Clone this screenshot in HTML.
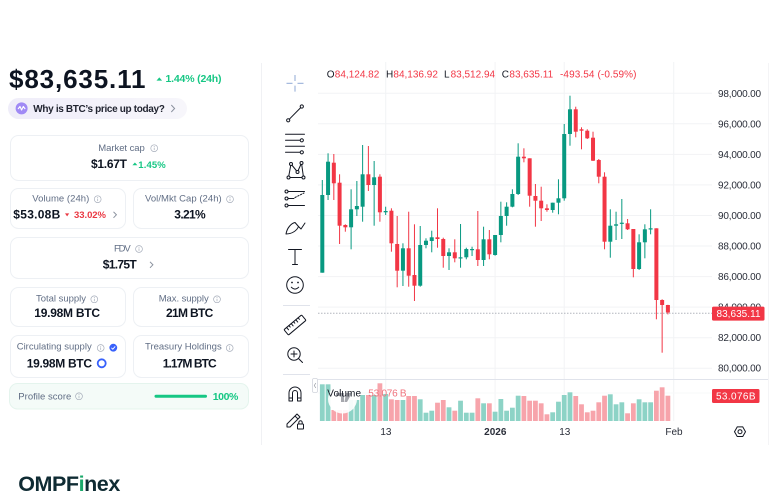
<!DOCTYPE html>
<html><head><meta charset="utf-8"><style>
html,body{margin:0;padding:0;background:#fff;width:780px;height:503px;overflow:hidden}
svg{display:block;font-family:"Liberation Sans",Arial,sans-serif}
.g{fill:#089981}.r{fill:#f23645}.vg{fill:#8dd3c6}.vr{fill:#f7a4ab}
.lbl{font-size:9.5px;fill:#616e85}
.val{font-size:12px;font-weight:bold;fill:#0d1421}
.ax{font-size:10px;fill:#2a2e39}
.ic{fill:none;stroke:#131722;stroke-width:1;stroke-linecap:round;stroke-linejoin:round}
</style></head><body>
<svg width="780" height="503" viewBox="0 0 780 503" xmlns="http://www.w3.org/2000/svg">
<defs>
<symbol id="info" viewBox="-4 -4 8 8" width="8" height="8"><circle r="3.4" fill="none" stroke="#a6adba" stroke-width="0.7"/><line x1="0" y1="-0.6" x2="0" y2="1.9" stroke="#a6adba" stroke-width="0.7"/><circle cy="-1.7" r="0.45" fill="#a6adba"/></symbol>
<linearGradient id="pill" x1="0" x2="1"><stop offset="0" stop-color="#efedf9"/><stop offset="1" stop-color="#f7f6fb"/></linearGradient>
</defs>

<!-- LEFT PANEL -->
<text x="9" y="88" font-size="26" font-weight="bold" fill="#0d1421" textLength="136.5">$83,635.11</text>
<polygon points="156.5,80.6 159.3,77.4 162.1,80.6" fill="#16c784"/>
<text x="165.5" y="81.8" font-size="10.5" font-weight="bold" fill="#16c784" textLength="56">1.44% (24h)</text>

<rect x="8" y="98" width="179" height="21" rx="10.5" fill="url(#pill)"/>
<circle cx="21.6" cy="108.4" r="6" fill="#a08af5"/>
<polyline points="18,109 20,106.5 21.6,110 23.3,106.5 25.2,109" fill="none" stroke="#fff" stroke-width="1.1" stroke-linejoin="round"/>
<text x="33.3" y="112" font-size="10" font-weight="bold" fill="#222531" textLength="131.5">Why is BTC’s price up today?</text>
<polyline points="171.3,105 174.6,108.5 171.3,112" fill="none" stroke="#8a919e" stroke-width="1"/>

<!-- cards -->
<g fill="#fff" stroke="#edf0f4" stroke-width="1">
<rect x="10.5" y="135.5" width="238" height="45" rx="8"/>
<rect x="10.5" y="188.5" width="115" height="40" rx="8"/>
<rect x="133.5" y="188.5" width="115" height="40" rx="8"/>
<rect x="10.5" y="237.5" width="238" height="41" rx="8"/>
<rect x="10.5" y="287.5" width="115" height="39" rx="8"/>
<rect x="133.5" y="287.5" width="115" height="39" rx="8"/>
<rect x="10.5" y="335.5" width="115" height="42" rx="8"/>
<rect x="133.5" y="335.5" width="115" height="42" rx="8"/>
</g>

<text class="lbl" x="98.3" y="151.2" textLength="46.5">Market cap</text>
<use href="#info" x="150.2" y="144.2"/>
<text class="val" x="91" y="168.2" textLength="36">$1.67T</text>
<polygon points="132.4,165.3 134.9,162.5 137.4,165.3" fill="#16c784"/>
<text x="138.3" y="168" font-size="9.5" font-weight="bold" fill="#16c784" textLength="27.4">1.45%</text>

<text class="lbl" x="32.3" y="201.3" textLength="57">Volume (24h)</text>
<use href="#info" x="93.7" y="195.2"/>
<text class="val" x="13.3" y="218.4" textLength="47">$53.08B</text>
<polygon points="65,213.4 69.2,213.4 67.1,216.4" fill="#ea3943"/>
<text x="74" y="218.2" font-size="9.5" font-weight="bold" fill="#ea3943" textLength="32">33.02%</text>
<polyline points="113.5,211.8 116.4,214.8 113.5,217.8" fill="none" stroke="#8a919e" stroke-width="1"/>

<text class="lbl" x="145" y="201.3" textLength="76.7">Vol/Mkt Cap (24h)</text>
<use href="#info" x="226" y="195.2"/>
<text class="val" x="174.3" y="218.3" textLength="31.4">3.21%</text>

<text class="lbl" x="114" y="251.5" textLength="16.7">FDV</text>
<use href="#info" x="135" y="245"/>
<text class="val" x="102.7" y="268.4" textLength="34">$1.75T</text>
<polyline points="150,261.8 152.9,264.8 150,267.8" fill="none" stroke="#8a919e" stroke-width="1"/>

<text class="lbl" x="36" y="301.5" textLength="50">Total supply</text>
<use href="#info" x="90.3" y="295.3"/>
<text class="val" x="34.3" y="317" textLength="65.7">19.98M BTC</text>
<text class="lbl" x="158.7" y="301.5" textLength="50">Max. supply</text>
<use href="#info" x="213" y="295.3"/>
<text class="val" x="166" y="317" textLength="47.3">21M BTC</text>

<text class="lbl" x="16.7" y="349.6" textLength="75">Circulating supply</text>
<use href="#info" x="96.7" y="344"/>
<circle cx="113.3" cy="347.7" r="3.9" fill="#3861fb"/>
<polyline points="111.4,347.8 112.8,349.2 115.2,346.4" fill="none" stroke="#fff" stroke-width="0.9"/>
<text class="val" x="26.7" y="367.3" textLength="65.3">19.98M BTC</text>
<circle cx="101.7" cy="363.3" r="4" fill="none" stroke="#3861fb" stroke-width="1.8"/>
<text class="lbl" x="145" y="349.6" textLength="76.7">Treasury Holdings</text>
<use href="#info" x="225.7" y="344"/>
<text class="val" x="162.7" y="367.3" textLength="54">1.17M BTC</text>

<rect x="9.5" y="383.5" width="239" height="25.5" rx="8" fill="#f4fbf8" stroke="#e4f4ed"/>
<text class="lbl" x="18.3" y="399.6" textLength="53">Profile score</text>
<use href="#info" x="75" y="392.3"/>
<line x1="156" y1="396.3" x2="205.5" y2="396.3" stroke="#16c784" stroke-width="3" stroke-linecap="round"/>
<text x="212.7" y="400" font-size="10.5" font-weight="bold" fill="#16c784" textLength="25.7">100%</text>

<!-- logo -->
<text x="18.2" y="490.8" font-size="21.5" font-weight="bold" fill="#0f2b33" textLength="101.8" letter-spacing="-0.3">OMPF<tspan fill="#1aa86a">i</tspan>nex</text>

<!-- container borders -->
<line x1="261.5" y1="63" x2="261.5" y2="445" stroke="#f0f1f4"/>
<line x1="768.5" y1="63" x2="768.5" y2="445" stroke="#f4f4f6"/>

<!-- TOOLBAR -->
<g stroke="#8fa8d6" stroke-width="1">
<line x1="286.5" y1="83.3" x2="292.5" y2="83.3"/><line x1="297.5" y1="83.3" x2="303.5" y2="83.3"/>
<line x1="295" y1="75" x2="295" y2="81"/><line x1="295" y1="85.6" x2="295" y2="91.6"/>
</g>
<g class="ic">
<line x1="289.3" y1="119.2" x2="300.7" y2="107.6"/><circle cx="288.2" cy="120.3" r="1.6"/><circle cx="301.8" cy="106.5" r="1.6"/>
<line x1="285.5" y1="134.3" x2="304.5" y2="134.3"/><line x1="285.5" y1="140.3" x2="300" y2="140.3"/><circle cx="301.8" cy="140.3" r="1.6"/>
<line x1="285.5" y1="146.3" x2="304.5" y2="146.3"/><line x1="285.5" y1="152.3" x2="300" y2="152.3"/><circle cx="301.8" cy="152.3" r="1.6"/>
<polyline points="288.5,177.5 291,164 297.5,172 301.5,163 303.5,177.5 288.5,177.5"/>
<circle cx="288.5" cy="177.5" r="1.5" fill="#fff"/><circle cx="291" cy="164" r="1.5" fill="#fff"/><circle cx="297.5" cy="172" r="1.5" fill="#fff"/><circle cx="301.5" cy="163" r="1.5" fill="#fff"/><circle cx="303.5" cy="177.5" r="1.5" fill="#fff"/>
<line x1="288" y1="191.5" x2="304.5" y2="191.5"/><circle cx="286.5" cy="191.5" r="1.5"/>
<line x1="288" y1="205.5" x2="304.5" y2="205.5"/><circle cx="286.5" cy="205.5" r="1.5"/>
<line x1="288" y1="198.5" x2="294" y2="198.5"/><circle cx="286.5" cy="198.5" r="1.5"/>
<line x1="295" y1="197.5" x2="304" y2="193" stroke-dasharray="1.5 1.5"/>
<path d="M286,234 C287,228 291,223.5 295,222.5 L298.5,226.5 C297,230.5 292,234 286,234 Z"/><path d="M298.5,226.5 L301,229 L305,223"/>
<path d="M288.5,249.5 L301.5,249.5 M295,249.5 L295,264.5 M292.5,264.5 L297.5,264.5"/>
<circle cx="295" cy="285" r="8.3"/><path d="M291.3,287.2 Q295,291 298.7,287.2"/>
</g>
<circle cx="292" cy="282.5" r="0.9" fill="#131722"/><circle cx="298" cy="282.5" r="0.9" fill="#131722"/>
<line x1="283" y1="305.5" x2="310" y2="305.5" stroke="#e0e3eb"/>
<g class="ic">
<g transform="rotate(-40 295 325)"><rect x="283.5" y="321.5" width="23" height="7" rx="1"/><path d="M287,321.5v3 M290,321.5v2 M293,321.5v3 M296,321.5v2 M299,321.5v3 M302,321.5v2"/></g>
<circle cx="294" cy="354" r="6.2"/><path d="M291,354h6 M294,351v6 M298.5,358.5 L302.5,362.5"/>
</g>
<line x1="283" y1="374.5" x2="310" y2="374.5" stroke="#e0e3eb"/>
<g class="ic">
<path d="M289,401 L289,393 A6,6 0 0 1 301,393 L301,401 M289,401 L292.5,401 L292.5,393 A2.5,2.5 0 0 1 297.5,393 L297.5,401 L301,401 M289,398 L292.5,398 M297.5,398 L301,398"/>
<path d="M287,427 L287,424 L297,414 L300,417 L290,427 Z M295,416 L298,419"/>
<rect x="297.5" y="424" width="6" height="5" rx="0.8"/><path d="M298.8,424 v-1.6 a1.7,1.7 0 0 1 3.4,0 v1.6"/>
</g>

<!-- CHART GRID -->
<g stroke="#f2f3f5" stroke-width="1">
<line x1="318" y1="93.3" x2="712" y2="93.3"/><line x1="318" y1="123.8" x2="712" y2="123.8"/>
<line x1="318" y1="154.4" x2="712" y2="154.4"/><line x1="318" y1="184.9" x2="712" y2="184.9"/>
<line x1="318" y1="215.5" x2="712" y2="215.5"/><line x1="318" y1="246" x2="712" y2="246"/>
<line x1="318" y1="276.6" x2="712" y2="276.6"/><line x1="318" y1="307.1" x2="712" y2="307.1"/>
<line x1="318" y1="337.7" x2="712" y2="337.7"/><line x1="318" y1="368.2" x2="712" y2="368.2"/>
<line x1="385.7" y1="62" x2="385.7" y2="421"/><line x1="495.1" y1="62" x2="495.1" y2="421"/>
<line x1="564.2" y1="62" x2="564.2" y2="421"/><line x1="673.7" y1="62" x2="673.7" y2="421"/>
<line x1="318" y1="393" x2="712" y2="393" stroke="#f7f8fa"/>
</g>
<line x1="318" y1="379.5" x2="768" y2="379.5" stroke="#e0e3eb"/>
<rect x="312.5" y="378.5" width="5" height="14" rx="1.5" fill="#fff" stroke="#d1d4dc" stroke-width="0.8"/>
<polyline points="315.8,383 314.3,385.5 315.8,388" fill="none" stroke="#9598a1" stroke-width="0.7"/>

<!-- OHLC legend -->
<g font-size="10">
<text x="326.7" y="77.5" fill="#131722">O</text><text x="334.8" y="77.5" fill="#f23645">84,124.82</text>
<text x="386" y="77.5" fill="#131722">H</text><text x="393.4" y="77.5" fill="#f23645">84,136.92</text>
<text x="444" y="77.5" fill="#131722">L</text><text x="450.6" y="77.5" fill="#f23645">83,512.94</text>
<text x="501.7" y="77.5" fill="#131722">C</text><text x="509.4" y="77.5" fill="#f23645">83,635.11</text>
<text x="560" y="77.5" fill="#f23645" textLength="76.5">-493.54 (-0.59%)</text>
</g>

<!-- VOLUME BARS -->
<g>
<rect class="vg" x="319.9" y="384.3" width="4.8" height="36.7"/>
<rect class="vg" x="325.66" y="384.3" width="4.8" height="36.7"/>
<rect class="vr" x="331.42" y="410" width="4.8" height="11"/>
<rect class="vr" x="337.18" y="410" width="4.8" height="11"/>
<rect class="vr" x="342.94" y="410" width="4.8" height="11"/>
<rect class="vg" x="348.7" y="400" width="4.8" height="21"/>
<rect class="vg" x="354.46" y="400" width="4.8" height="21"/>
<rect class="vg" x="360.22" y="395" width="4.8" height="26"/>
<rect class="vr" x="365.98" y="395" width="4.8" height="26"/>
<rect class="vg" x="371.74" y="395" width="4.8" height="26"/>
<rect class="vr" x="377.5" y="383.3" width="4.8" height="37.7"/>
<rect class="vg" x="383.26" y="394" width="4.8" height="27"/>
<rect class="vr" x="389.02" y="399.3" width="4.8" height="21.7"/>
<rect class="vr" x="394.78" y="400" width="4.8" height="21"/>
<rect class="vg" x="400.54" y="400" width="4.8" height="21"/>
<rect class="vr" x="406.3" y="396" width="4.8" height="25"/>
<rect class="vr" x="412.06" y="396" width="4.8" height="25"/>
<rect class="vg" x="417.82" y="399.3" width="4.8" height="21.7"/>
<rect class="vg" x="423.58" y="412.7" width="4.8" height="8.3"/>
<rect class="vg" x="429.34" y="410.7" width="4.8" height="10.3"/>
<rect class="vr" x="435.1" y="402.7" width="4.8" height="18.3"/>
<rect class="vr" x="440.86" y="400" width="4.8" height="21"/>
<rect class="vg" x="446.62" y="407.3" width="4.8" height="13.7"/>
<rect class="vr" x="452.38" y="410.7" width="4.8" height="10.3"/>
<rect class="vg" x="458.14" y="400.7" width="4.8" height="20.3"/>
<rect class="vg" x="463.9" y="412.7" width="4.8" height="8.3"/>
<rect class="vg" x="469.66" y="412.7" width="4.8" height="8.3"/>
<rect class="vr" x="475.42" y="398.3" width="4.8" height="22.7"/>
<rect class="vg" x="481.18" y="403.3" width="4.8" height="17.7"/>
<rect class="vr" x="486.94" y="403.3" width="4.8" height="17.7"/>
<rect class="vg" x="492.7" y="411.7" width="4.8" height="9.3"/>
<rect class="vg" x="498.46" y="399" width="4.8" height="22"/>
<rect class="vg" x="504.22" y="410.7" width="4.8" height="10.3"/>
<rect class="vg" x="509.98" y="407.7" width="4.8" height="13.3"/>
<rect class="vg" x="515.74" y="395.7" width="4.8" height="25.3"/>
<rect class="vr" x="521.5" y="396" width="4.8" height="25"/>
<rect class="vr" x="527.26" y="400.7" width="4.8" height="20.3"/>
<rect class="vr" x="533.02" y="400.7" width="4.8" height="20.3"/>
<rect class="vr" x="538.78" y="403.3" width="4.8" height="17.7"/>
<rect class="vr" x="544.54" y="414.3" width="4.8" height="6.7"/>
<rect class="vg" x="550.3" y="412.3" width="4.8" height="8.7"/>
<rect class="vg" x="556.06" y="401.7" width="4.8" height="19.3"/>
<rect class="vg" x="561.82" y="395" width="4.8" height="26"/>
<rect class="vg" x="567.58" y="392.3" width="4.8" height="28.7"/>
<rect class="vr" x="573.34" y="396" width="4.8" height="25"/>
<rect class="vr" x="579.1" y="404.3" width="4.8" height="16.7"/>
<rect class="vr" x="584.86" y="412.3" width="4.8" height="8.7"/>
<rect class="vr" x="590.62" y="410.7" width="4.8" height="10.3"/>
<rect class="vr" x="596.38" y="402.3" width="4.8" height="18.7"/>
<rect class="vr" x="602.14" y="395.7" width="4.8" height="25.3"/>
<rect class="vg" x="607.9" y="394.3" width="4.8" height="26.7"/>
<rect class="vg" x="613.66" y="404.3" width="4.8" height="16.7"/>
<rect class="vg" x="619.42" y="402.3" width="4.8" height="18.7"/>
<rect class="vr" x="625.18" y="413.3" width="4.8" height="7.7"/>
<rect class="vr" x="630.94" y="403.3" width="4.8" height="17.7"/>
<rect class="vg" x="636.7" y="399.3" width="4.8" height="21.7"/>
<rect class="vg" x="642.46" y="402.3" width="4.8" height="18.7"/>
<rect class="vg" x="648.22" y="402.3" width="4.8" height="18.7"/>
<rect class="vr" x="653.98" y="390.7" width="4.8" height="30.3"/>
<rect class="vr" x="659.74" y="387.3" width="4.8" height="33.7"/>
<rect class="vr" x="665.5" y="395.7" width="4.8" height="25.3"/>
</g>
<!-- watermark -->
<circle cx="342.5" cy="399" r="14.5" fill="#fff" opacity="0.9"/>
<path d="M336,393 h8 v9 h-3 v-6 h-5 z M346,393 h6 l-5,9 h-2.5 z" fill="#5d606b" opacity="0.55"/>
<text x="327.3" y="396.6" font-size="10" fill="#131722" textLength="33.7">Volume</text>
<text x="368.3" y="396.6" font-size="10" fill="#f0727c" textLength="38.3">53.076 B</text>

<!-- CANDLES -->
<g>
<rect class="g" x="321.8" y="180" width="1" height="92.7"/><rect class="g" x="320.3" y="195" width="4" height="77.7"/>
<rect class="g" x="327.56" y="153.3" width="1" height="46.7"/><rect class="g" x="326.06" y="161.7" width="4" height="33.3"/>
<rect class="r" x="333.32" y="154" width="1" height="46"/><rect class="r" x="331.82" y="162.7" width="4" height="20.6"/>
<rect class="r" x="339.08" y="174.3" width="1" height="69.7"/><rect class="r" x="337.58" y="182.7" width="4" height="43"/>
<rect class="r" x="344.84" y="224.3" width="1" height="7.4"/><rect class="r" x="343.34" y="225" width="4" height="2.3"/>
<rect class="g" x="350.6" y="189.3" width="1" height="60"/><rect class="g" x="349.1" y="209.3" width="4" height="18"/>
<rect class="g" x="356.36" y="181" width="1" height="35"/><rect class="g" x="354.86" y="206" width="4" height="3.3"/>
<rect class="g" x="362.12" y="145" width="1" height="76.7"/><rect class="g" x="360.62" y="174.3" width="4" height="32.4"/>
<rect class="r" x="367.88" y="146" width="1" height="45"/><rect class="r" x="366.38" y="174.3" width="4" height="10.7"/>
<rect class="g" x="373.64" y="161" width="1" height="64.7"/><rect class="g" x="372.14" y="177.3" width="4" height="7.7"/>
<rect class="r" x="379.4" y="174.3" width="1" height="47.4"/><rect class="r" x="377.9" y="176.7" width="4" height="35.6"/>
<rect class="g" x="385.16" y="206.7" width="1" height="8.3"/><rect class="g" x="383.66" y="211" width="4" height="1.3"/>
<rect class="r" x="390.92" y="208.3" width="1" height="43.4"/><rect class="r" x="389.42" y="210.7" width="4" height="32.6"/>
<rect class="r" x="396.68" y="216" width="1" height="71.3"/><rect class="r" x="395.18" y="244" width="4" height="26.7"/>
<rect class="g" x="402.44" y="243.3" width="1" height="42.7"/><rect class="g" x="400.94" y="248.3" width="4" height="22.4"/>
<rect class="r" x="408.2" y="211.7" width="1" height="75"/><rect class="r" x="406.7" y="248.3" width="4" height="27.4"/>
<rect class="r" x="413.96" y="224.3" width="1" height="76.7"/><rect class="r" x="412.46" y="275" width="4" height="10.7"/>
<rect class="g" x="419.72" y="226" width="1" height="60.7"/><rect class="g" x="418.22" y="245" width="4" height="40.7"/>
<rect class="g" x="425.48" y="238.3" width="1" height="10"/><rect class="g" x="423.98" y="240.7" width="4" height="4.3"/>
<rect class="g" x="431.24" y="230.7" width="1" height="21.6"/><rect class="g" x="429.74" y="237.3" width="4" height="3.7"/>
<rect class="r" x="437" y="208.3" width="1" height="39.4"/><rect class="r" x="435.5" y="237.3" width="4" height="1.7"/>
<rect class="r" x="442.76" y="237.7" width="1" height="30"/><rect class="r" x="441.26" y="239" width="4" height="17"/>
<rect class="g" x="448.52" y="248.3" width="1" height="21.7"/><rect class="g" x="447.02" y="252.3" width="4" height="3.7"/>
<rect class="r" x="454.28" y="239.3" width="1" height="23"/><rect class="r" x="452.78" y="252.3" width="4" height="6"/>
<rect class="g" x="460.04" y="224" width="1" height="43.7"/><rect class="g" x="458.54" y="257.3" width="4" height="1.2"/>
<rect class="g" x="465.8" y="247.7" width="1" height="11.6"/><rect class="g" x="464.3" y="249" width="4" height="8.3"/>
<rect class="g" x="471.56" y="246.7" width="1" height="9.3"/><rect class="g" x="470.06" y="249" width="4" height="1.2"/>
<rect class="r" x="477.32" y="211" width="1" height="55"/><rect class="r" x="475.82" y="249.3" width="4" height="10.7"/>
<rect class="g" x="483.08" y="226.7" width="1" height="39.3"/><rect class="g" x="481.58" y="239.3" width="4" height="20.7"/>
<rect class="r" x="488.84" y="230" width="1" height="29.3"/><rect class="r" x="487.34" y="239.3" width="4" height="15"/>
<rect class="g" x="494.6" y="235" width="1" height="20.7"/><rect class="g" x="493.1" y="235" width="4" height="20"/>
<rect class="g" x="500.36" y="201.7" width="1" height="40.6"/><rect class="g" x="498.86" y="216" width="4" height="19"/>
<rect class="g" x="506.12" y="202.3" width="1" height="23.4"/><rect class="g" x="504.62" y="206.7" width="4" height="9.3"/>
<rect class="g" x="511.88" y="189.3" width="1" height="18"/><rect class="g" x="510.38" y="194" width="4" height="12.7"/>
<rect class="g" x="517.64" y="143.3" width="1" height="51.7"/><rect class="g" x="516.14" y="156.7" width="4" height="37.3"/>
<rect class="r" x="523.4" y="148.3" width="1" height="14"/><rect class="r" x="521.9" y="156.7" width="4" height="1.6"/>
<rect class="r" x="529.16" y="158.3" width="1" height="48.4"/><rect class="r" x="527.66" y="158.3" width="4" height="37.4"/>
<rect class="r" x="534.92" y="184" width="1" height="42.7"/><rect class="r" x="533.42" y="196" width="4" height="4.7"/>
<rect class="r" x="540.68" y="186.7" width="1" height="34.3"/><rect class="r" x="539.18" y="200.7" width="4" height="7.6"/>
<rect class="r" x="546.44" y="204.3" width="1" height="7.4"/><rect class="r" x="544.94" y="208.3" width="4" height="1.7"/>
<rect class="g" x="552.2" y="202.7" width="1" height="10"/><rect class="g" x="550.7" y="202.7" width="4" height="7.3"/>
<rect class="g" x="557.96" y="179.3" width="1" height="35"/><rect class="g" x="556.46" y="198.3" width="4" height="4.4"/>
<rect class="g" x="563.72" y="124" width="1" height="76.7"/><rect class="g" x="562.22" y="134" width="4" height="64.3"/>
<rect class="g" x="569.48" y="95.7" width="1" height="50"/><rect class="g" x="567.98" y="109.3" width="4" height="24.7"/>
<rect class="r" x="575.24" y="106.7" width="1" height="30.6"/><rect class="r" x="573.74" y="109.3" width="4" height="22.4"/>
<rect class="r" x="581" y="127.3" width="1" height="22"/><rect class="r" x="579.5" y="129.3" width="4" height="1.4"/>
<rect class="r" x="586.76" y="129.3" width="1" height="9.7"/><rect class="r" x="585.26" y="130.7" width="4" height="7.6"/>
<rect class="r" x="592.52" y="131.7" width="1" height="29.3"/><rect class="r" x="591.02" y="137.7" width="4" height="23"/>
<rect class="r" x="598.28" y="159" width="1" height="24.3"/><rect class="r" x="596.78" y="160" width="4" height="16.7"/>
<rect class="r" x="604.04" y="172.3" width="1" height="77"/><rect class="r" x="602.54" y="176.7" width="4" height="65"/>
<rect class="g" x="609.8" y="209.3" width="1" height="48.4"/><rect class="g" x="608.3" y="225.7" width="4" height="16"/>
<rect class="g" x="615.56" y="211.7" width="1" height="28.3"/><rect class="g" x="614.06" y="224.3" width="4" height="1.4"/>
<rect class="g" x="621.32" y="199" width="1" height="40"/><rect class="g" x="619.82" y="222.7" width="4" height="1.2"/>
<rect class="r" x="627.08" y="219" width="1" height="11"/><rect class="r" x="625.58" y="223.3" width="4" height="6"/>
<rect class="r" x="632.84" y="229" width="1" height="48.3"/><rect class="r" x="631.34" y="229" width="4" height="40"/>
<rect class="g" x="638.6" y="234.3" width="1" height="35.7"/><rect class="g" x="637.1" y="242.3" width="4" height="26.7"/>
<rect class="g" x="644.36" y="224.3" width="1" height="34"/><rect class="g" x="642.86" y="229.3" width="4" height="13"/>
<rect class="g" x="650.12" y="209.3" width="1" height="25"/><rect class="g" x="648.62" y="228.3" width="4" height="1.2"/>
<rect class="r" x="655.88" y="228.3" width="1" height="91"/><rect class="r" x="654.38" y="228.3" width="4" height="71.7"/>
<rect class="r" x="661.64" y="299.3" width="1" height="53.4"/><rect class="r" x="660.14" y="300" width="4" height="5"/>
<rect class="r" x="667.4" y="304.8" width="1" height="9.6"/><rect class="r" x="665.9" y="305" width="4" height="7.5"/>
</g>

<!-- crosshair price line -->
<line x1="318" y1="313.2" x2="712" y2="313.2" stroke="#b2b5be" stroke-width="1" stroke-dasharray="1.5 1.5"/>

<!-- PRICE AXIS -->
<g class="ax">
<text x="718" y="96.8" textLength="43">98,000.00</text>
<text x="718" y="127.3" textLength="43">96,000.00</text>
<text x="718" y="157.9" textLength="43">94,000.00</text>
<text x="718" y="188.4" textLength="43">92,000.00</text>
<text x="718" y="219" textLength="43">90,000.00</text>
<text x="718" y="249.5" textLength="43">88,000.00</text>
<text x="718" y="280.1" textLength="43">86,000.00</text>
<text x="718" y="310.6" textLength="43">84,000.00</text>
<text x="718" y="341.2" textLength="43">82,000.00</text>
<text x="718" y="371.7" textLength="43">80,000.00</text>
</g>
<rect x="712" y="306.6" width="52.5" height="14" rx="1.5" fill="#f23645"/>
<text x="716.5" y="317.2" font-size="10" fill="#fff" textLength="44">83,635.11</text>
<rect x="712" y="389" width="47.5" height="14" rx="1.5" fill="#f23645"/>
<text x="716" y="399.6" font-size="10" fill="#fff" textLength="39.5">53.076B</text>

<!-- TIME AXIS -->
<g class="ax" text-anchor="middle">
<text x="385.9" y="435">13</text>
<text x="495.3" y="435" font-weight="bold">2026</text>
<text x="564.8" y="435">13</text>
<text x="674" y="435">Feb</text>
</g>
<polygon points="745.5,431.7 742.75,436.5 737.25,436.5 734.5,431.7 737.25,426.9 742.75,426.9" fill="none" stroke="#131722" stroke-width="1"/>
<circle cx="740" cy="431.7" r="2" fill="none" stroke="#131722" stroke-width="1"/>
</svg>
</body></html>
